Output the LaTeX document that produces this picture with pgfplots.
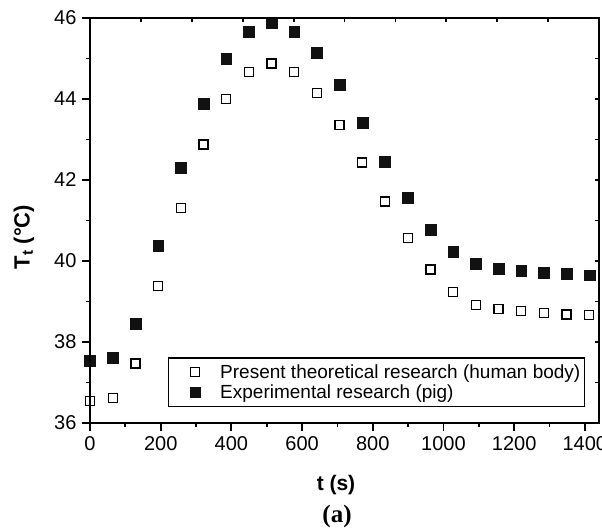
\documentclass[border=0pt]{standalone}
\usepackage{fontspec}
\setmainfont{Liberation Sans}
\newfontfamily\serifb{Liberation Serif}
\usepackage{pgfplots}
\pgfplotsset{compat=1.18}
\usepackage{pgfplotstable}
\pgfplotstableread{
t human pig
0      36.54 37.54
64.2   36.61 37.61
128.4  37.47 38.46
192.6  39.38 40.37
256.8  41.30 42.30
321.0  42.88 43.88
385.2  44.00 45.00
449.4  44.67 45.66
513.6  44.88 45.88
577.8  44.67 45.66
642.0  44.14 45.14
706.2  43.36 44.36
770.4  42.43 43.42
834.6  41.47 42.46
898.8  40.56 41.56
963.0  39.79 40.78
1027.2 39.23 40.23
1091.4 38.91 39.93
1155.6 38.81 39.82
1219.8 38.77 39.76
1284.0 38.72 39.72
1348.2 38.68 39.68
1412.4 38.67 39.65
}\datatable
\definecolor{fillk}{HTML}{111111}
\begin{document}
\begin{tikzpicture}
\useasboundingbox (0,0) rectangle (602bp,528bp);
\begin{axis}[
  at={(90bp,105bp)}, anchor=south west,
  width=509bp, height=405bp, scale only axis,
  xmin=0, xmax=1440, ymin=36, ymax=46,
  xtick={0,200,...,1400}, minor xtick={100,300,...,1300},
  ytick={36,38,...,46}, minor ytick={37,39,...,45},
  xtick pos=left, ytick pos=left, tick align=outside,
  major tick length=8bp, minor tick length=4bp,
  every tick/.style={black, line width=1.8bp},
  axis line style={line width=1.8bp},
  /pgf/number format/assume math mode=true,
  /pgf/number format/1000 sep={},
  tick label style={font=\fontsize{20bp}{23bp}\selectfont},
  xticklabel style={yshift=-2bp},
  yticklabel style={xshift=-2bp},
  xlabel={\textbf{t (s)}},
  xlabel style={font=\fontsize{21bp}{24bp}\selectfont, at={(axis description cs:0.4833,-0.1531)}, anchor=center},
  ylabel={\textbf{T\textsubscript{t} (°C)}},
  ylabel style={font=\fontsize{22bp}{25bp}\selectfont, at={(axis description cs:-0.1297,0.459)}, anchor=center},
  legend style={at={(rel axis cs:0.9725,0.0395)}, anchor=south east, draw=black, line width=1.3bp,
    font=\fontsize{19bp}{22bp}\selectfont, row sep=1bp, inner xsep=2bp, inner ysep=4.5bp},
  legend cell align=left,
  legend image code/.code={\path[mark repeat=2,mark phase=2,#1,draw=none] plot coordinates {(0bp,0bp)(25bp,0bp)(48bp,0bp)};},
]
\addplot[draw=none, mark=square*, mark size=4.5bp, mark options={fill=white, draw=black, line width=1.3bp}] table[x=t, y=human] {\datatable};
\addlegendentry{Present theoretical research (human body)}
\addplot[draw=none, mark=square*, mark size=5.4bp, mark options={fill=fillk, draw=fillk, line width=0.3bp}] table[x=t, y=pig] {\datatable};
\addlegendentry{Experimental research (pig)}
\end{axis}
\begin{axis}[
  at={(90bp,105bp)}, anchor=south west,
  width=509bp, height=405bp, scale only axis,
  xmin=0, xmax=10, ymin=36, ymax=46,
  xtick={1,...,9}, ytick={37,...,45},
  xtick pos=right, ytick pos=right, tick align=inside,
  major tick length=4bp,
  every tick/.style={black, line width=1.8bp},
  axis line style={line width=1.8bp},
  xticklabels={}, yticklabels={},
]
\end{axis}
\node[font=\serifb\bfseries\fontsize{25bp}{28bp}\selectfont, anchor=center] at (337bp,12bp) {(a)};
\end{tikzpicture}
\end{document}
